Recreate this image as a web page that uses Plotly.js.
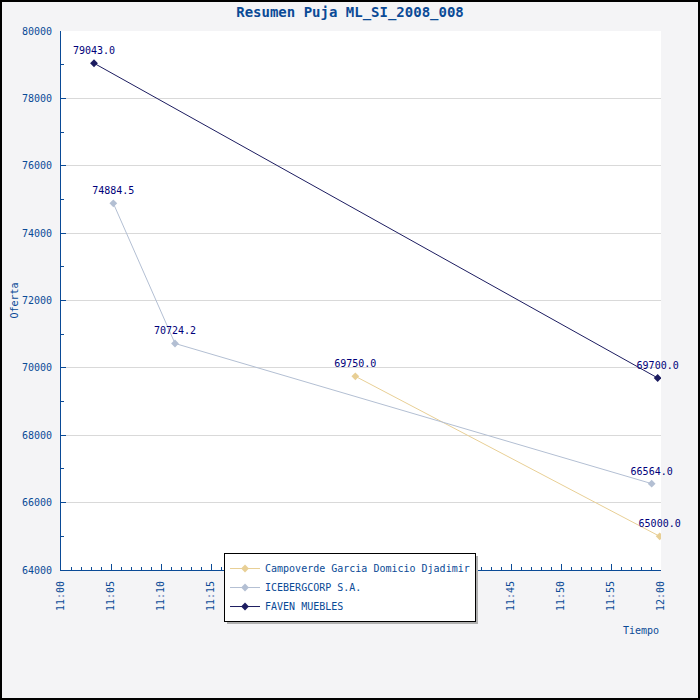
<!DOCTYPE html>
<html>
<head>
<meta charset="utf-8">
<script src="https://cdn.plot.ly/plotly-3.0.1.min.js"></script>
<style>
  body { margin: 0; padding: 0; background: #fff; }
  #chart { width: 696px; height: 696px; border: 2px solid #000; }
</style>
</head>
<body>
<div id="chart"></div>
<script>
// bid times and offers per bidder
var campoverdeTimes = ['2008-01-01 11:29:26', '2008-01-01 11:59:52'];
var campoverdeBids = [69750.0, 65000.0];

var icebergTimes = ['2008-01-01 11:05:14', '2008-01-01 11:11:24', '2008-01-01 11:59:04'];
var icebergBids = [74884.5, 70724.2, 66564.0];

var favenTimes = ['2008-01-01 11:03:18', '2008-01-01 11:59:40'];
var favenBids = [79043.0, 69700.0];

var bidders = ['Campoverde Garcia Domicio Djadimir', 'ICEBERGCORP S.A.', 'FAVEN MUEBLES'];
var colors = ['#e8cf95', '#b3bfd3', '#1c1c60'];

var mono = 'DejaVu Sans Mono, monospace';
var blue = '#0a4a96';
var labelColor = '#00007a';

var series = [
  {x: campoverdeTimes, y: campoverdeBids},
  {x: icebergTimes, y: icebergBids},
  {x: favenTimes, y: favenBids}
];

var data = [];
for (var i = 0; i < series.length; i++) {
  data.push({
    x: series[i].x,
    y: series[i].y,
    name: bidders[i],
    type: 'scatter',
    mode: 'lines+markers',
    line: {color: colors[i], width: 1},
    marker: {symbol: 'diamond', size: 6, color: colors[i]}
  });
}
// value labels, separate so the legend shows no text sample
// (invisible markers just push the text up a bit)
for (var j = 0; j < series.length; j++) {
  data.push({
    x: series[j].x,
    y: series[j].y,
    type: 'scatter',
    mode: 'markers+text',
    marker: {size: 9, opacity: 0},
    text: series[j].y.map(function(v){ return v.toFixed(1); }),
    textposition: 'top center',
    textfont: {family: mono, size: 10, color: labelColor},
    cliponaxis: false,
    showlegend: false,
    hoverinfo: 'skip'
  });
}

var layout = {
  width: 696,
  height: 696,
  margin: {l: 59, r: 37, t: 29, b: 128},
  paper_bgcolor: '#f4f4f6',
  plot_bgcolor: '#ffffff',
  font: {family: mono, size: 10, color: blue},
  title: {
    text: '<b>Resumen Puja ML_SI_2008_008</b>',
    font: {family: mono, size: 14, color: blue},
    x: 0.5, xanchor: 'center',
    y: 0.993, yanchor: 'top'
  },
  xaxis: {
    type: 'date',
    range: ['2008-01-01 11:00:00', '2008-01-01 12:00:00'],
    tick0: '2008-01-01 11:00:00',
    dtick: 300000,
    tickformat: '%H:%M',
    tickangle: -90,
    ticks: 'inside',
    ticklen: 6,
    tickcolor: blue,
    ticklabelstandoff: 6,
    minor: {dtick: 60000, ticks: 'inside', ticklen: 3, tickcolor: blue},
    showline: true,
    linecolor: blue,
    linewidth: 1,
    showgrid: false,
    zeroline: false,
    tickfont: {family: mono, size: 10, color: blue}
  },
  yaxis: {
    range: [64000, 80000],
    dtick: 2000,
    tickformat: 'd',
    ticks: 'inside',
    ticklen: 5,
    tickcolor: blue,
    ticklabelstandoff: 6,
    minor: {dtick: 1000, ticks: 'inside', ticklen: 3, tickcolor: blue, showgrid: false},
    showline: true,
    linecolor: blue,
    linewidth: 1,
    showgrid: true,
    gridcolor: '#d9d9d9',
    zeroline: false,
    tickfont: {family: mono, size: 10, color: blue},
    title: {text: 'Oferta', font: {family: mono, size: 10, color: blue}, standoff: 1}
  },
  legend: {
    x: 0.2717, xanchor: 'left',
    y: 0.0315, yanchor: 'top',
    bgcolor: '#ffffff',
    bordercolor: '#000000',
    borderwidth: 1,
    font: {family: mono, size: 10, color: blue},
    tracegroupgap: 0,
    itemwidth: 30
  },
  annotations: [{
    text: 'Tiempo',
    xref: 'paper', yref: 'paper',
    x: 1.0, xanchor: 'right',
    y: -0.113, yanchor: 'middle',
    showarrow: false,
    font: {family: mono, size: 10, color: blue}
  }],
  shapes: [{
    type: 'rect', xref: 'paper', yref: 'paper',
    x0: 0.2767, x1: 0.695, y0: -0.1002, y1: 0.026,
    fillcolor: '#b0b0b0', line: {width: 0}, layer: 'above'
  }]
};

Plotly.newPlot('chart', data, layout, {displayModeBar: false, staticPlot: true});
</script>
</body>
</html>
